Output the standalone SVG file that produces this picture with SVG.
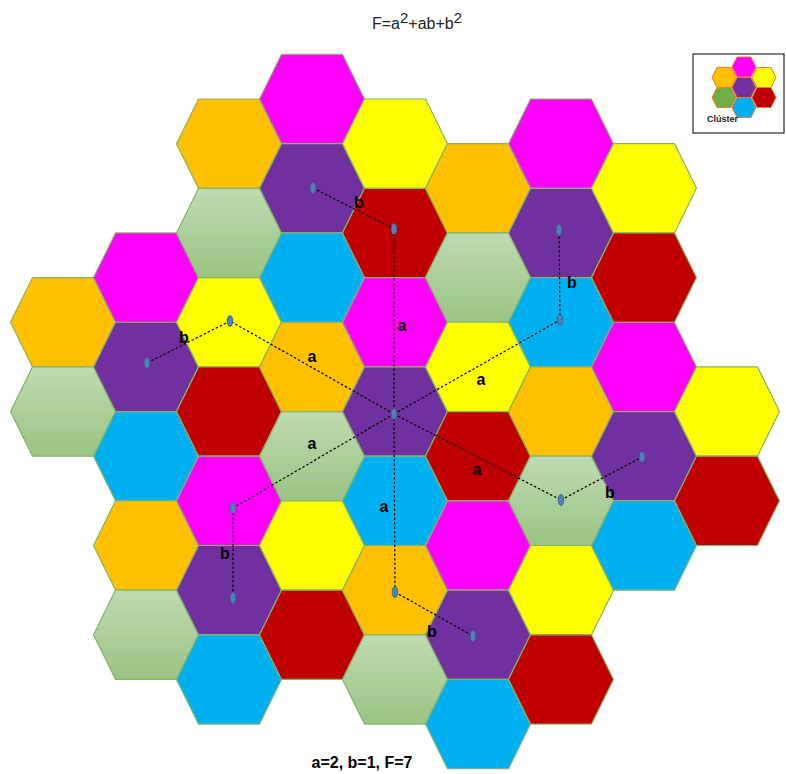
<svg xmlns="http://www.w3.org/2000/svg" width="786" height="774" viewBox="0 0 786 774">
<style>
.h{stroke:#86B464;stroke-width:1.2}
.or{fill:#FFC000}.mg{fill:#FF00FF}.ye{fill:#FFFF00}.pu{fill:#7030A0}.rd{fill:#C00000}.cy{fill:#00B0F0}.gr{fill:url(#gg)}
.ln{stroke:#000;stroke-width:1.2;stroke-dasharray:2.5 2;fill:none}
.dot{fill:#4F81BD;stroke:#385D8A;stroke-width:0.8}
.lb{font-family:"Liberation Sans",Arial,sans-serif;font-weight:bold;font-size:16px;fill:#000;text-anchor:middle}
.mh{stroke:#ED7D31;stroke-width:1}
</style>
<defs>
<linearGradient id="gg" x1="0" y1="0" x2="0" y2="1"><stop offset="0" stop-color="#BEDAB2"/><stop offset="1" stop-color="#9BC484"/></linearGradient>
<path id="hx" d="M-52.5,0 L-30.5,-44.65 L30.5,-44.65 L52.5,0 L30.5,44.65 L-30.5,44.65 Z"/>
<path id="mx" d="M-12,0 L-7,-10 L7,-10 L12,0 L7,10 L-7,10 Z"/>
</defs>
<text x="417" y="29" font-family="Liberation Sans,Arial,sans-serif" font-size="16" fill="#222" text-anchor="middle">F=a<tspan dy="-6" font-size="15">2</tspan><tspan dy="6">+ab+b</tspan><tspan dy="-6" font-size="15">2</tspan></text>
<g id="cells">
<g id="c0r5"><use href="#hx" x="63" y="322.25" class="h or"/></g>
<g id="c0r7"><use href="#hx" x="63" y="411.55" class="h gr"/></g>
<g id="c1r4"><use href="#hx" x="146" y="277.6" class="h mg"/></g>
<g id="c1r6"><use href="#hx" x="146" y="366.9" class="h pu"/></g>
<g id="c1r8"><use href="#hx" x="146" y="456.2" class="h cy"/></g>
<g id="c1r10"><use href="#hx" x="146" y="545.5" class="h or"/></g>
<g id="c1r12"><use href="#hx" x="146" y="634.8" class="h gr"/></g>
<g id="c2r1"><use href="#hx" x="229" y="143.65" class="h or"/></g>
<g id="c2r3"><use href="#hx" x="229" y="232.95" class="h gr"/></g>
<g id="c2r5"><use href="#hx" x="229" y="322.25" class="h ye"/></g>
<g id="c2r7"><use href="#hx" x="229" y="411.55" class="h rd"/></g>
<g id="c2r9"><use href="#hx" x="229" y="500.85" class="h mg"/></g>
<g id="c2r11"><use href="#hx" x="229" y="590.15" class="h pu"/></g>
<g id="c2r13"><use href="#hx" x="229" y="679.45" class="h cy"/></g>
<g id="c3r0"><use href="#hx" x="312" y="99" class="h mg"/></g>
<g id="c3r2"><use href="#hx" x="312" y="188.3" class="h pu"/></g>
<g id="c3r4"><use href="#hx" x="312" y="277.6" class="h cy"/></g>
<g id="c3r6"><use href="#hx" x="312" y="366.9" class="h or"/></g>
<g id="c3r8"><use href="#hx" x="312" y="456.2" class="h gr"/></g>
<g id="c3r10"><use href="#hx" x="312" y="545.5" class="h ye"/></g>
<g id="c3r12"><use href="#hx" x="312" y="634.8" class="h rd"/></g>
<g id="c4r1"><use href="#hx" x="395" y="143.65" class="h ye"/></g>
<g id="c4r3"><use href="#hx" x="395" y="232.95" class="h rd"/></g>
<g id="c4r5"><use href="#hx" x="395" y="322.25" class="h mg"/></g>
<g id="c4r7"><use href="#hx" x="395" y="411.55" class="h pu"/></g>
<g id="c4r9"><use href="#hx" x="395" y="500.85" class="h cy"/></g>
<g id="c4r11"><use href="#hx" x="395" y="590.15" class="h or"/></g>
<g id="c4r13"><use href="#hx" x="395" y="679.45" class="h gr"/></g>
<g id="c5r2"><use href="#hx" x="478" y="188.3" class="h or"/></g>
<g id="c5r4"><use href="#hx" x="478" y="277.6" class="h gr"/></g>
<g id="c5r6"><use href="#hx" x="478" y="366.9" class="h ye"/></g>
<g id="c5r8"><use href="#hx" x="478" y="456.2" class="h rd"/></g>
<g id="c5r10"><use href="#hx" x="478" y="545.5" class="h mg"/></g>
<g id="c5r12"><use href="#hx" x="478" y="634.8" class="h pu"/></g>
<g id="c5r14"><use href="#hx" x="478" y="724.1" class="h cy"/></g>
<g id="c6r1"><use href="#hx" x="561" y="143.65" class="h mg"/></g>
<g id="c6r3"><use href="#hx" x="561" y="232.95" class="h pu"/></g>
<g id="c6r5"><use href="#hx" x="561" y="322.25" class="h cy"/></g>
<g id="c6r7"><use href="#hx" x="561" y="411.55" class="h or"/></g>
<g id="c6r9"><use href="#hx" x="561" y="500.85" class="h gr"/></g>
<g id="c6r11"><use href="#hx" x="561" y="590.15" class="h ye"/></g>
<g id="c6r13"><use href="#hx" x="561" y="679.45" class="h rd"/></g>
<g id="c7r2"><use href="#hx" x="644" y="188.3" class="h ye"/></g>
<g id="c7r4"><use href="#hx" x="644" y="277.6" class="h rd"/></g>
<g id="c7r6"><use href="#hx" x="644" y="366.9" class="h mg"/></g>
<g id="c7r8"><use href="#hx" x="644" y="456.2" class="h pu"/></g>
<g id="c7r10"><use href="#hx" x="644" y="545.5" class="h cy"/></g>
<g id="c8r7"><use href="#hx" x="727" y="411.55" class="h ye"/></g>
<g id="c8r9"><use href="#hx" x="727" y="500.85" class="h rd"/></g>
</g>
<g id="connectors">
<line class="ln" x1="313" y1="188" x2="394" y2="229"/>
<line class="ln" x1="394" y1="229" x2="394" y2="414"/>
<line class="ln" x1="394" y1="414" x2="395" y2="592"/>
<line class="ln" x1="395" y1="592" x2="473" y2="636"/>
<line class="ln" x1="394" y1="414" x2="230" y2="321"/>
<line class="ln" x1="230" y1="321" x2="147" y2="363"/>
<line class="ln" x1="394" y1="414" x2="560" y2="320"/>
<line class="ln" x1="560" y1="320" x2="559" y2="230"/>
<line class="ln" x1="394" y1="414" x2="561" y2="500"/>
<line class="ln" x1="561" y1="500" x2="642" y2="457"/>
<line class="ln" x1="394" y1="414" x2="233" y2="508"/>
<line class="ln" x1="233" y1="508" x2="233" y2="598"/>
</g>
<g id="dots">
<ellipse class="dot" cx="313" cy="188" rx="2.8" ry="5.5"/>
<ellipse class="dot" cx="394" cy="229" rx="2.8" ry="5.5"/>
<ellipse class="dot" cx="394" cy="414" rx="2.8" ry="5.5"/>
<ellipse class="dot" cx="395" cy="592" rx="2.8" ry="5.5"/>
<ellipse class="dot" cx="473" cy="636" rx="2.8" ry="5.5"/>
<ellipse class="dot" cx="230" cy="321" rx="2.8" ry="5.5"/>
<ellipse class="dot" cx="147" cy="363" rx="2.8" ry="5.5"/>
<ellipse class="dot" cx="560" cy="320" rx="2.8" ry="5.5"/>
<ellipse class="dot" cx="559" cy="230" rx="2.8" ry="5.5"/>
<ellipse class="dot" cx="561" cy="500" rx="2.8" ry="5.5"/>
<ellipse class="dot" cx="642" cy="457" rx="2.8" ry="5.5"/>
<ellipse class="dot" cx="233" cy="508" rx="2.8" ry="5.5"/>
<ellipse class="dot" cx="233" cy="598" rx="2.8" ry="5.5"/>
</g>
<g id="labels">
<text class="lb" x="359" y="208">b</text>
<text class="lb" x="402" y="331">a</text>
<text class="lb" x="184" y="343">b</text>
<text class="lb" x="312" y="362">a</text>
<text class="lb" x="481" y="385">a</text>
<text class="lb" x="572" y="288">b</text>
<text class="lb" x="312" y="449">a</text>
<text class="lb" x="477" y="475">a</text>
<text class="lb" x="384" y="512">a</text>
<text class="lb" x="610" y="498">b</text>
<text class="lb" x="225" y="559">b</text>
<text class="lb" x="432" y="637">b</text>
</g>
<g id="legend">
<rect x="693" y="54" width="91" height="79" fill="#fff" stroke="#000" stroke-width="1"/>
<use href="#mx" x="744" y="67" class="mh mg"/>
<use href="#mx" x="724" y="77.5" class="mh or"/>
<use href="#mx" x="764" y="77.5" class="mh ye"/>
<use href="#mx" x="744" y="87.5" class="mh pu"/>
<use href="#mx" x="724" y="97.5" class="mh" fill="#70AD47"/>
<use href="#mx" x="764" y="97.5" class="mh rd"/>
<use href="#mx" x="744" y="107.5" class="mh cy"/>
<text x="707" y="122" font-family="Liberation Sans,Arial,sans-serif" font-weight="bold" font-size="9" fill="#222">Clúster</text>
</g>
<text x="362" y="768" font-family="Liberation Sans,Arial,sans-serif" font-weight="bold" font-size="16" fill="#000" text-anchor="middle">a=2, b=1, F=7</text>
</svg>
